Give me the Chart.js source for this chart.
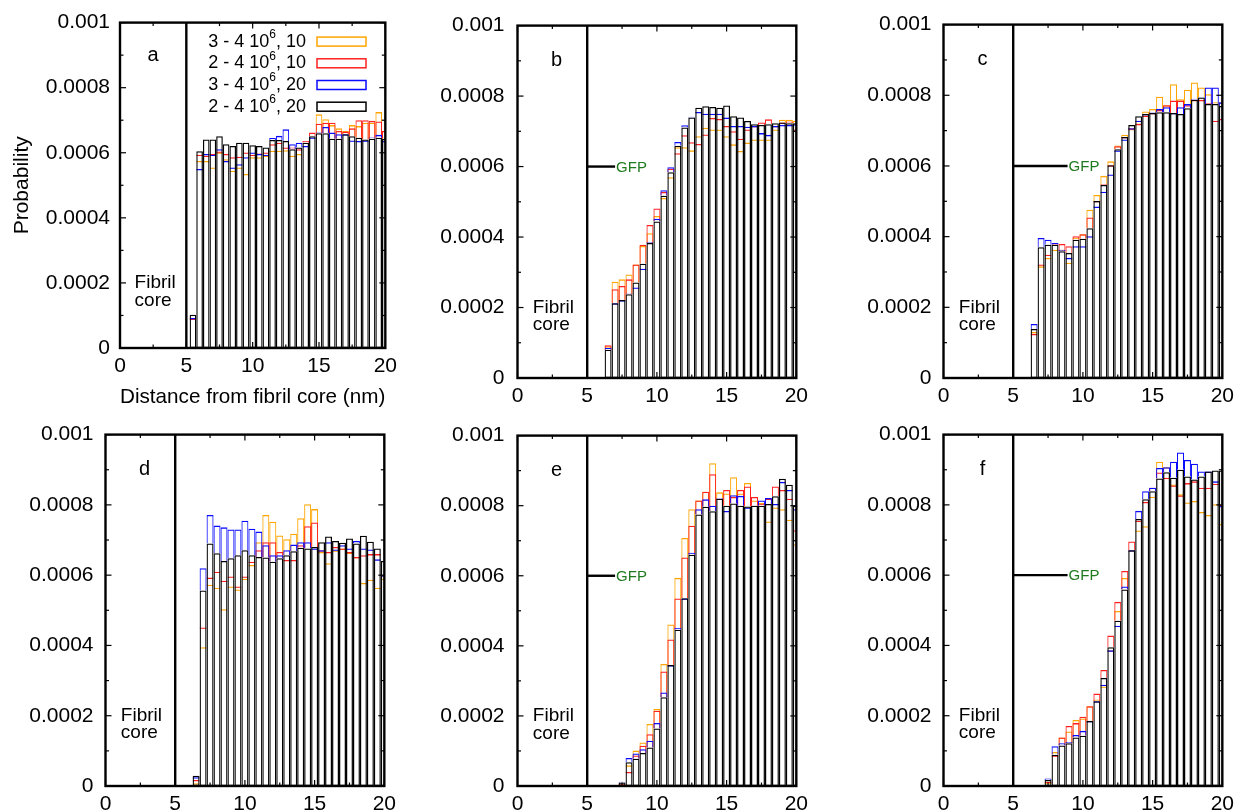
<!DOCTYPE html>
<html>
<head>
<meta charset="utf-8">
<script src="https://cdn.jsdelivr.net/npm/chart.js@4.4.1/dist/chart.umd.min.js"></script>
<style>
  html, body { margin: 0; padding: 0; background: #fff; }
  #figura { position: relative; width: 1240px; height: 812px; overflow: hidden; }
  #figura canvas { position: absolute; }
</style>
</head>
<body>
<div id="figura"></div>
<script>
// Centros dos bins (nm)
const binsA = [5.5, 6, 6.5, 7, 7.5, 8, 8.5, 9, 9.5, 10, 10.5, 11, 11.5, 12, 12.5, 13, 13.5, 14, 14.5, 15, 15.5, 16, 16.5, 17, 17.5, 18, 18.5, 19, 19.5, 20];
const binsB = [6.5, 7, 7.5, 8, 8.5, 9, 9.5, 10, 10.5, 11, 11.5, 12, 12.5, 13, 13.5, 14, 14.5, 15, 15.5, 16, 16.5, 17, 17.5, 18, 18.5, 19, 19.5, 20];
const binsE = [7.5, 8, 8.5, 9, 9.5, 10, 10.5, 11, 11.5, 12, 12.5, 13, 13.5, 14, 14.5, 15, 15.5, 16, 16.5, 17, 17.5, 18, 18.5, 19, 19.5, 20];

const xTickLabels = ['0', '5', '10', '15', '20'];
const yTickLabels = ['0', '0.0002', '0.0004', '0.0006', '0.0008', '0.001'];

// Series: 3-4 10^6,10 (laranja), 2-4 10^6,10 (vermelho), 3-4 10^6,20 (azul), 2-4 10^6,20 (preto)
const aOrange = [0.00009, 0.000575, 0.000575, 0.000555, 0.000601, 0.00058, 0.000545, 0.000555, 0.000535, 0.000586, 0.000586, 0.000591, 0.000606, 0.000606, 0.000608, 0.000591, 0.000596, 0.000631, 0.000652, 0.000718, 0.000703, 0.000685, 0.000675, 0.000667, 0.000685, 0.000682, 0.000692, 0.000692, 0.000725, 0.000647];
const aRed = [0.00009, 0.000594, 0.000591, 0.000596, 0.000604, 0.000596, 0.000586, 0.000588, 0.000601, 0.000594, 0.000598, 0.000601, 0.000626, 0.000631, 0.000616, 0.000616, 0.000611, 0.000636, 0.000662, 0.000689, 0.000692, 0.000692, 0.000667, 0.000665, 0.000675, 0.0007, 0.0007, 0.000698, 0.000696, 0.000667];
const aBlue = [0.000092, 0.00055, 0.000596, 0.000594, 0.000611, 0.000575, 0.000555, 0.000565, 0.000586, 0.000601, 0.000596, 0.000594, 0.000645, 0.000652, 0.000672, 0.000626, 0.000631, 0.000621, 0.000647, 0.000662, 0.000679, 0.000662, 0.000657, 0.000657, 0.000638, 0.000636, 0.000638, 0.000647, 0.000655, 0.000636];
const aBlack = [0.000102, 0.000605, 0.000641, 0.000641, 0.000651, 0.000626, 0.000621, 0.000631, 0.000631, 0.000623, 0.000621, 0.000616, 0.000639, 0.000639, 0.000636, 0.000611, 0.000616, 0.000631, 0.000651, 0.00066, 0.00066, 0.000643, 0.000643, 0.000657, 0.000651, 0.000646, 0.000641, 0.000643, 0.000646, 0.000643];

const bOrange = [0.00009, 0.000273, 0.00028, 0.000294, 0.000322, 0.000375, 0.000411, 0.00046, 0.000511, 0.00057, 0.000655, 0.000655, 0.000646, 0.000686, 0.00071, 0.000705, 0.000705, 0.000686, 0.000663, 0.000644, 0.000668, 0.000677, 0.000677, 0.000677, 0.000705, 0.000733, 0.000733, 0.00073];
const bRed = [0.000093, 0.000252, 0.000261, 0.00028, 0.000322, 0.000378, 0.000434, 0.000481, 0.000528, 0.000594, 0.000638, 0.000689, 0.000669, 0.000664, 0.000691, 0.000738, 0.000735, 0.000715, 0.0007, 0.000679, 0.000705, 0.000715, 0.000725, 0.000734, 0.000715, 0.000725, 0.000728, 0.000705];
const bBlue = [0.000085, 0.000212, 0.000221, 0.00024, 0.000257, 0.00031, 0.000385, 0.000452, 0.000533, 0.000598, 0.00067, 0.000717, 0.000741, 0.000755, 0.00075, 0.00075, 0.00075, 0.000739, 0.000715, 0.000715, 0.000713, 0.000715, 0.000695, 0.00069, 0.000715, 0.000718, 0.000718, 0.00072];
const bBlack = [0.00008, 0.000212, 0.000221, 0.000238, 0.000271, 0.000324, 0.000383, 0.000444, 0.000517, 0.000584, 0.000659, 0.000711, 0.000739, 0.000767, 0.000771, 0.000769, 0.000767, 0.000773, 0.000743, 0.000739, 0.000729, 0.00072, 0.000718, 0.00072, 0.000723, 0.000725, 0.000723, 0.000723];

const cOrange = [0.00013, 0.000316, 0.00034, 0.000363, 0.000363, 0.000326, 0.000397, 0.000407, 0.000476, 0.000518, 0.000572, 0.000613, 0.000658, 0.000688, 0.000705, 0.00072, 0.000754, 0.000761, 0.000796, 0.000772, 0.000831, 0.000789, 0.000816, 0.000836, 0.000822, 0.000803, 0.00078, 0.00078];
const cRed = [0.000125, 0.000321, 0.000349, 0.000379, 0.000379, 0.000373, 0.000401, 0.000407, 0.000454, 0.000501, 0.000548, 0.000602, 0.000656, 0.000682, 0.000707, 0.000719, 0.000742, 0.00075, 0.000758, 0.000772, 0.000785, 0.000785, 0.000772, 0.000787, 0.000787, 0.000778, 0.000728, 0.000733];
const cBlue = [0.000153, 0.000396, 0.000391, 0.000382, 0.000363, 0.00034, 0.000373, 0.000373, 0.000401, 0.000485, 0.000527, 0.000576, 0.000644, 0.000675, 0.000707, 0.000728, 0.000747, 0.000752, 0.000761, 0.000766, 0.00075, 0.000766, 0.000775, 0.00079, 0.000795, 0.000822, 0.000822, 0.00078];
const cBlack = [0.000139, 0.00037, 0.000377, 0.000377, 0.000359, 0.000354, 0.000391, 0.000394, 0.000424, 0.000501, 0.000546, 0.000602, 0.000647, 0.000682, 0.000716, 0.000741, 0.000747, 0.00075, 0.000752, 0.000752, 0.00075, 0.000747, 0.000763, 0.000787, 0.000794, 0.000775, 0.000775, 0.00077];

const dOrange = [0.000008, 0.000395, 0.000573, 0.000564, 0.000503, 0.000568, 0.000559, 0.00059, 0.000629, 0.000694, 0.000771, 0.000752, 0.000713, 0.000702, 0.000718, 0.000762, 0.000802, 0.000788, 0.000666, 0.000634, 0.00067, 0.000676, 0.000664, 0.000652, 0.000578, 0.000587, 0.000564, 0.00059];
const dRed = [0.000017, 0.000451, 0.000593, 0.00061, 0.000584, 0.000596, 0.000568, 0.000596, 0.000638, 0.000671, 0.000694, 0.000694, 0.000666, 0.000643, 0.000643, 0.000685, 0.000739, 0.00075, 0.000671, 0.000666, 0.00068, 0.000676, 0.000666, 0.000652, 0.000657, 0.00066, 0.00066, 0.0006];
const dBlue = [0.000025, 0.00062, 0.000771, 0.000741, 0.000736, 0.00073, 0.00073, 0.000755, 0.000732, 0.000724, 0.000685, 0.000657, 0.000657, 0.000671, 0.000687, 0.000694, 0.000694, 0.000676, 0.000671, 0.000694, 0.000673, 0.000685, 0.000676, 0.000697, 0.000676, 0.000673, 0.000645, 0.0006];
const dBlack = [0.000029, 0.000556, 0.00069, 0.000662, 0.00064, 0.000648, 0.000657, 0.000671, 0.000657, 0.000652, 0.00065, 0.000638, 0.000648, 0.000657, 0.000668, 0.000678, 0.000676, 0.00068, 0.000694, 0.00071, 0.000697, 0.000692, 0.000704, 0.00069, 0.000712, 0.000695, 0.000676, 0.00064];

const eOrange = [0.000005, 0.000059, 0.000101, 0.000124, 0.000177, 0.00022, 0.000348, 0.000461, 0.000594, 0.000708, 0.00079, 0.000815, 0.00084, 0.000921, 0.000838, 0.000835, 0.000881, 0.000835, 0.000865, 0.000815, 0.000808, 0.000755, 0.000795, 0.00079, 0.00076, 0.00069];
const eRed = [0.000005, 0.00004, 0.000087, 0.000115, 0.000148, 0.000215, 0.000327, 0.000418, 0.000535, 0.000652, 0.000743, 0.000815, 0.00084, 0.00089, 0.00082, 0.000845, 0.000825, 0.000845, 0.000855, 0.000825, 0.000805, 0.00082, 0.000855, 0.000845, 0.00082, 0.00073];
const eBlue = [0.000012, 0.00008, 0.000093, 0.000105, 0.000129, 0.00018, 0.000267, 0.000345, 0.000451, 0.000535, 0.000666, 0.00079, 0.000818, 0.0008, 0.000822, 0.000785, 0.00083, 0.000828, 0.000795, 0.0008, 0.000815, 0.000822, 0.000805, 0.000868, 0.000845, 0.00079];
const eBlack = [0.00001, 0.000068, 0.000078, 0.000094, 0.00011, 0.000164, 0.000253, 0.000345, 0.000446, 0.000536, 0.00066, 0.000775, 0.000797, 0.000784, 0.00082, 0.0008, 0.000806, 0.0008, 0.000798, 0.0008, 0.0008, 0.000805, 0.000827, 0.000877, 0.00086, 0.0008];

const fOrange = [0.00001, 0.000097, 0.000138, 0.000155, 0.000188, 0.000192, 0.000227, 0.000246, 0.000283, 0.000386, 0.000498, 0.000592, 0.000671, 0.000727, 0.000739, 0.000823, 0.000923, 0.000907, 0.000858, 0.00083, 0.000807, 0.000811, 0.00078, 0.000771, 0.000802, 0.000746];
const fRed = [0.000012, 0.000087, 0.000138, 0.000171, 0.000179, 0.000197, 0.000227, 0.000263, 0.00033, 0.000428, 0.000524, 0.000612, 0.000696, 0.000755, 0.000808, 0.000849, 0.000892, 0.000877, 0.000855, 0.000827, 0.000862, 0.000867, 0.000849, 0.000849, 0.00086, 0.0008];
const fBlue = [0.000021, 0.000113, 0.000122, 0.000125, 0.000145, 0.000157, 0.000185, 0.000241, 0.000288, 0.000386, 0.000456, 0.000568, 0.000671, 0.000783, 0.000839, 0.000849, 0.000905, 0.000907, 0.000923, 0.000949, 0.000928, 0.000917, 0.000895, 0.000895, 0.000867, 0.000797];
const fBlack = [0.000017, 0.000089, 0.000115, 0.000122, 0.000138, 0.000143, 0.000185, 0.000241, 0.000307, 0.000395, 0.00047, 0.000559, 0.000671, 0.00076, 0.000816, 0.000839, 0.000875, 0.000893, 0.000877, 0.0009, 0.000881, 0.000872, 0.000881, 0.000895, 0.000898, 0.000898];

const rotulosLegenda = [['3 - 4 10', '6', ', 10'], ['2 - 4 10', '6', ', 10'], ['3 - 4 10', '6', ', 20'], ['2 - 4 10', '6', ', 20']];
const cores = ['#ffa500', '#ff2020', '#0a0aff', '#000000'];

// Anotacoes
const nucleoBorda = 5;
const gfpNivel = 0.0006;
const FONTE = '"Liberation Sans", Arial, Helvetica, sans-serif';

Chart.defaults.font.family = FONTE;
Chart.defaults.color = '#000';

const paineis = [
    { letra: 'a', letraX: 2.5, bins: binsA, series: [aOrange, aRed, aBlue, aBlack], left: 0, top: 0, padEsq: 0, yW: 120, padTop: 21, plotW: 267, plotH: 327, xH: 62, tickPad: 10, gfpFim: null, titulos: true },
    { letra: 'b', letraX: 2.8, bins: binsB, series: [bOrange, bRed, bBlue, bBlack], left: 416, top: 0, padEsq: 1.5, yW: 100, padTop: 22, plotW: 280, plotH: 356, xH: 32, tickPad: 13, gfpFim: 7.0 },
    { letra: 'c', letraX: 2.8, bins: binsB, series: [cOrange, cRed, cBlue, cBlack], left: 842, top: 0, padEsq: 1.5, yW: 100, padTop: 22, plotW: 280, plotH: 356, xH: 32, tickPad: 12, gfpFim: 8.9 },
    { letra: 'd', letraX: 2.8, bins: binsB, series: [dOrange, dRed, dBlue, dBlack], left: 3, top: 410, padEsq: 2.5, yW: 100, padTop: 19, plotW: 280, plotH: 357, xH: 26, tickPad: 12, gfpFim: null },
    { letra: 'e', letraX: 2.8, bins: binsE, series: [eOrange, eRed, eBlue, eBlack], left: 416, top: 410, padEsq: 1.5, yW: 100, padTop: 19, plotW: 280, plotH: 357, xH: 26, tickPad: 13, gfpFim: 7.0 },
    { letra: 'f', letraX: 2.8, bins: binsE, series: [fOrange, fRed, fBlue, fBlack], left: 842, top: 410, padEsq: 1.5, yW: 100, padTop: 19, plotW: 280, plotH: 357, xH: 26, tickPad: 12, gfpFim: 8.9 }
];

function linha(ctx, x1, y1, x2, y2, largura) {
    ctx.lineWidth = largura;
    ctx.beginPath();
    ctx.moveTo(x1, y1);
    ctx.lineTo(x2, y2);
    ctx.stroke();
}

// Legenda do painel a, com expoente
function desenharLegenda(ctx, area) {
    rotulosLegenda.forEach((partes, i) => {
        const yc = area.top + 19 + i * 21.7;
        const xd = area.left + 186;
        ctx.textAlign = 'left';
        ctx.textBaseline = 'middle';
        ctx.fillStyle = '#000';
        ctx.font = '18px ' + FONTE;
        const w1 = ctx.measureText(partes[0]).width;
        const w3 = ctx.measureText(partes[2]).width;
        ctx.font = '12px ' + FONTE;
        const w2 = ctx.measureText(partes[1]).width;
        ctx.fillText(partes[1], xd - w3 - w2, yc - 7);
        ctx.font = '18px ' + FONTE;
        ctx.fillText(partes[2], xd - w3, yc);
        ctx.fillText(partes[0], xd - w3 - w2 - w1, yc);
        ctx.strokeStyle = cores[i];
        ctx.lineWidth = 1.5;
        ctx.strokeRect(area.left + 197, yc - 4.5, 49, 9);
    });
}

// Moldura, marcas internas e textos de cada painel
const decoracao = {
    id: 'decoracao',
    afterDatasetsDraw(chart, args, o) {
        const ctx = chart.ctx;
        const area = chart.chartArea;
        const x = chart.scales.x;
        const y = chart.scales.y;
        ctx.save();
        ctx.strokeStyle = '#000';
        ctx.lineCap = 'butt';

        const x5 = x.getPixelForValue(nucleoBorda);
        linha(ctx, x5, area.top, x5, area.bottom, 2.4);

        if (o.gfpFim) {
            const yg = y.getPixelForValue(gfpNivel);
            const xf = x.getPixelForValue(o.gfpFim);
            linha(ctx, x5, yg, xf, yg, 2.4);
            ctx.fillStyle = '#1f7a1f';
            ctx.font = '15px ' + FONTE;
            ctx.textAlign = 'left';
            ctx.textBaseline = 'middle';
            ctx.fillText('GFP', xf + 1, yg + 1);
        }

        ctx.fillStyle = '#000';
        ctx.font = '19px ' + FONTE;
        ctx.textAlign = 'left';
        ctx.textBaseline = 'middle';
        const fx = x.getPixelForValue(1.1);
        const fy = y.getPixelForValue(0.0002);
        ctx.fillText('Fibril', fx, fy);
        ctx.fillText('core', fx, fy + 17.5);

        ctx.font = '20px ' + FONTE;
        ctx.textAlign = 'center';
        ctx.fillText(o.letra, x.getPixelForValue(o.letraX), y.getPixelForValue(0.0009));

        // marcas para dentro nos quatro lados
        y.ticks.forEach((t, i) => {
            const py = y.getPixelForValue(t.value);
            linha(ctx, area.left, py, area.left + 6, py, 1.2);
            linha(ctx, area.right, py, area.right - 6, py, 1.2);
            if (i < y.ticks.length - 1) {
                const pm = y.getPixelForValue((t.value + y.ticks[i + 1].value) / 2);
                linha(ctx, area.left, pm, area.left + 3.5, pm, 1.2);
                linha(ctx, area.right, pm, area.right - 3.5, pm, 1.2);
            }
        });
        x.ticks.forEach((t, i) => {
            const px = x.getPixelForValue(t.value);
            linha(ctx, px, area.bottom, px, area.bottom - 6, 1.2);
            linha(ctx, px, area.top, px, area.top + 6, 1.2);
            if (i < x.ticks.length - 1) {
                const pm = x.getPixelForValue((t.value + x.ticks[i + 1].value) / 2);
                linha(ctx, pm, area.bottom, pm, area.bottom - 3.5, 1.2);
                linha(ctx, pm, area.top, pm, area.top + 3.5, 1.2);
            }
        });

        ctx.lineWidth = 2.4;
        ctx.strokeRect(area.left, area.top, area.right - area.left, area.bottom - area.top);

        if (o.titulos) desenharLegenda(ctx, area);
        ctx.restore();
    }
};

function criarPainel(p) {
    const largura = Math.ceil(p.padEsq + p.yW + p.plotW + 16);
    const altura = p.padTop + p.plotH + p.xH;
    const canvas = document.createElement('canvas');
    canvas.width = largura;
    canvas.height = altura;
    canvas.style.left = p.left + 'px';
    canvas.style.top = p.top + 'px';
    canvas.style.width = largura + 'px';
    canvas.style.height = altura + 'px';
    document.getElementById('figura').appendChild(canvas);

    const preto = p.series[3];

    new Chart(canvas.getContext('2d'), {
        type: 'bar',
        data: {
            datasets: p.series.map((valores, i) => ({
                // colorida acima do preto: so a parte que sobra (barra flutuante)
                data: valores.map((v, j) => ({
                    x: p.bins[j],
                    y: (i < 3 && v > preto[j]) ? [preto[j], v] : v
                })),
                backgroundColor: 'rgba(0,0,0,0)',
                borderColor: cores[i],
                borderWidth: i === 3 ? 1.25 : (c => {
                    const lado = valores[c.dataIndex] > preto[c.dataIndex] ? 1 : 0;
                    return { top: 1.3, bottom: 0, left: lado, right: lado };
                }),
                borderSkipped: false,
                inflateAmount: 0,
                grouped: false,
                barPercentage: 1,
                categoryPercentage: 1,
                // preto por cima
                order: 4 - i,
                clip: 0
            }))
        },
        options: {
            responsive: false,
            animation: false,
            devicePixelRatio: 1,
            layout: { padding: { left: p.padEsq, top: p.padTop, right: largura - p.padEsq - p.yW - p.plotW, bottom: 0 } },
            plugins: {
                legend: { display: false },
                tooltip: { enabled: false },
                decoracao: { letra: p.letra, letraX: p.letraX, gfpFim: p.gfpFim, titulos: !!p.titulos }
            },
            scales: {
                x: {
                    type: 'linear',
                    min: 0,
                    max: 20,
                    offset: false,
                    grid: { display: false, drawTicks: false, offset: false },
                    border: { display: false },
                    ticks: {
                        stepSize: 5,
                        padding: 6,
                        maxRotation: 0,
                        font: { size: 21 },
                        callback: (v, i) => xTickLabels[i]
                    },
                    title: {
                        display: !!p.titulos,
                        text: 'Distance from fibril core (nm)',
                        font: { size: 21 },
                        padding: { top: 0, bottom: 0 }
                    },
                    afterFit: s => { s.height = p.xH; }
                },
                y: {
                    min: 0,
                    max: 0.001,
                    grid: { display: false, drawTicks: false },
                    border: { display: false },
                    ticks: {
                        stepSize: 0.0002,
                        padding: p.tickPad,
                        font: { size: 21 },
                        callback: (v, i) => yTickLabels[i]
                    },
                    title: {
                        display: !!p.titulos,
                        text: 'Probability',
                        font: { size: 21 },
                        padding: { top: 10, bottom: 0 }
                    },
                    afterFit: s => { s.width = p.yW; }
                }
            }
        },
        plugins: [decoracao]
    });
}

paineis.forEach(criarPainel);
</script>
</body>
</html>
